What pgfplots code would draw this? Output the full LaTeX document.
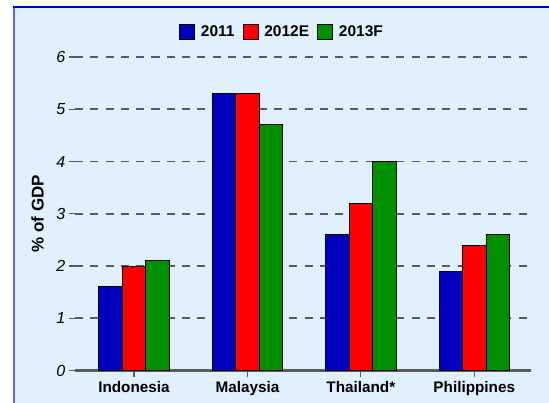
\documentclass[border=0pt]{standalone}
\usepackage{fontspec}
\setmainfont{Liberation Sans}
\usepackage{pgfplots}
\pgfplotsset{compat=1.18}

\definecolor{bgblue}{HTML}{E0F0FF}
\definecolor{topline}{HTML}{0000CC}
\definecolor{leftline}{HTML}{6666FF}
\definecolor{cBlue}{HTML}{0000C0}
\definecolor{cRed}{HTML}{FF0000}
\definecolor{cGreen}{HTML}{009000}
\definecolor{gridgray}{HTML}{5A5A5A}

\begin{document}
\begin{tikzpicture}
% panel background (1px = 1bp, axis origin at pixel (75,370.5))
\useasboundingbox (-75bp,-32.5bp) rectangle (474bp,370.5bp);
\fill[white] (-75bp,-32.5bp) rectangle (474bp,370.5bp);
\fill[bgblue] (-62bp,-32.5bp) rectangle (474bp,363.5bp);
\draw[leftline, line width=2bp] (-61bp,-32.5bp) -- (-61bp,363.5bp);
\draw[topline, line width=1.5bp] (-62bp,363.5bp) -- (474bp,363.5bp);

\begin{axis}[
    scale only axis,
    width=456bp, height=313.5bp,
    ybar=0pt, bar width=23.4bp,
    xmin=-0.52, xmax=3.5,
    ymin=0, ymax=6,
    xtick={0,1,2,3},
    xticklabels={Indonesia, Malaysia, Thailand*, Philippines},
    ytick={0,1,2,3,4,5,6},
    axis x line*=bottom,
    axis y line*=left,
    y axis line style={draw=none},
    x axis line style={draw=gridgray, line width=2bp, -},
    tick align=outside,
    major tick length=6bp,
    tick style={draw=gridgray, line width=1.2bp},
    ymajorgrids=true,
    grid style={gridgray, line width=1.6bp, dash pattern=on 8bp off 7.3bp},
    /pgf/number format/assume math mode=true,
    yticklabel style={font=\fontsize{16bp}{18bp}\selectfont\itshape, anchor=east, inner sep=0pt, xshift=-3.5bp},
    xticklabel style={font=\fontsize{15.3bp}{18bp}\selectfont\bfseries, anchor=north, inner sep=0pt, yshift=-5bp},
    ylabel={\% of GDP},
    ylabel style={font=\fontsize{17bp}{19bp}\selectfont\bfseries, at={(axis description cs:-0.0822,0.5)}, anchor=center},
    legend columns=-1,
    legend style={at={(0.454,1.081)}, anchor=center, draw=none, fill=none,
        font=\fontsize{15.5bp}{18bp}\selectfont\bfseries,
        /tikz/every even column/.append style={column sep=6bp},
        /tikz/every odd column/.append style={column sep=4bp}},
    legend image code/.code={\draw[#1, draw=black, line width=0.8bp] (0bp,-7.5bp) rectangle (15bp,7.5bp);},
    every axis plot/.append style={draw=black, line width=0.9bp},
]
\addplot[fill=cBlue] coordinates {(0,1.6) (1,5.3) (2,2.6) (3,1.9)};
\addlegendentry{2011}
\addplot[fill=cRed] coordinates {(0,2.0) (1,5.3) (2,3.2) (3,2.4)};
\addlegendentry{2012E}
\addplot[fill=cGreen] coordinates {(0,2.1) (1,4.7) (2,4.0) (3,2.6)};
\addlegendentry{2013F}
\end{axis}
\end{tikzpicture}
\end{document}
